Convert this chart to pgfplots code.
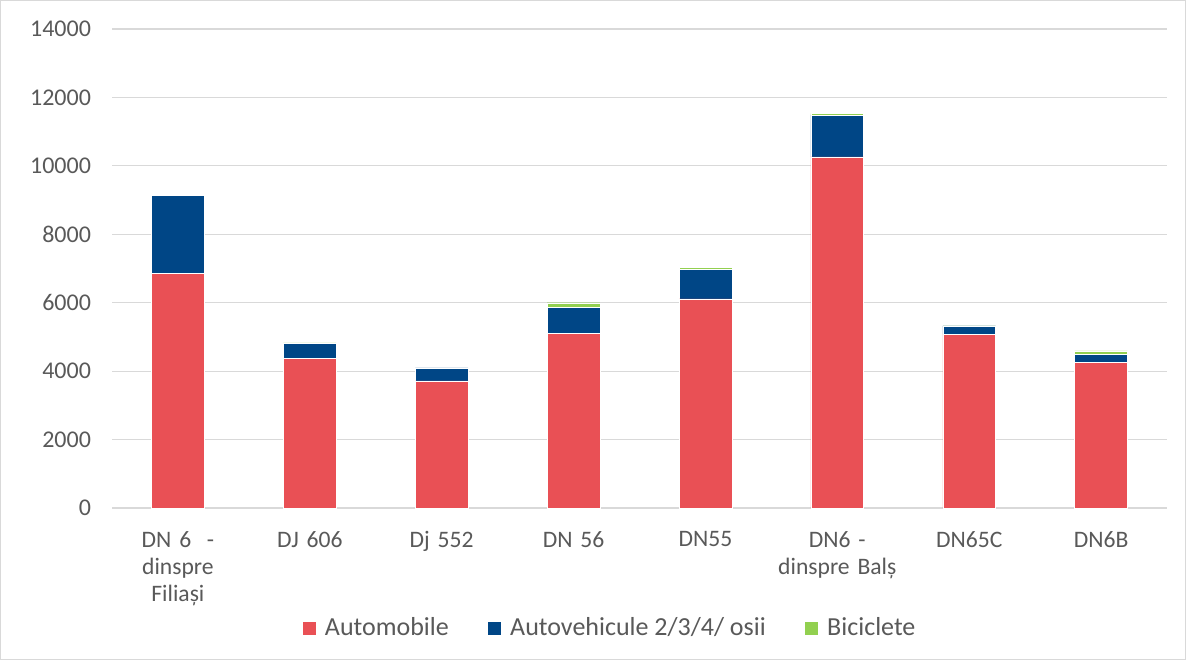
\documentclass[border=0pt]{standalone}
\usepackage{fontspec}
\setmainfont{Carlito}
\usepackage{pgfplots}
\pgfplotsset{compat=1.18}

\definecolor{autored}{RGB}{233,80,85}
\definecolor{autoblue}{RGB}{0,70,134}
\definecolor{bikegreen}{RGB}{146,208,80}
\definecolor{gridgray}{RGB}{217,217,217}
\definecolor{textgray}{RGB}{89,89,89}

% values: x index, Automobile, Autovehicule, Biciclete
\pgfplotstableread{
x auto truck bike
0 6860 2285 15
1 4375 440 8
2 3715 380 6
3 5095 760 145
4 6110 875 55
5 10260 1220 55
6 5085 235 6
7 4260 240 95
}\traffic

\begin{document}
\begin{tikzpicture}
\useasboundingbox (0pt,0pt) rectangle (593pt,330pt);
\draw[gridgray, line width=0.6pt] (0.25pt,0.25pt) rectangle (592.75pt,329.75pt);
\begin{axis}[
    at={(56pt,76pt)}, anchor=south west,
    scale only axis,
    width=527.5pt, height=239.5pt,
    ybar stacked,
    bar width=0.4,
    xmin=-0.5, xmax=7.5,
    ymin=0, ymax=14000,
    ytick={0,2000,...,14000},
    scaled y ticks=false,
    xtick={0,...,7},
    xticklabels={{DN 6\ \ -\\dinspre\\Filiași},{DJ 606},{Dj 552},{DN 56},{DN55},{DN6 -\\dinspre Balș},{DN65C},{DN6B}},
    x tick label style={align=center, text width=75pt, font=\fontsize{11.8}{13.5}\selectfont, text=textgray, yshift=-8pt},
    y tick label style={font=\fontsize{12}{14}\selectfont, text=textgray, xshift=-7pt},
    /pgf/number format/1000 sep={},
    /pgf/number format/assume math mode=true,
    axis line style={draw=none},
    major tick length=0pt,
    ymajorgrids,
    grid style={gridgray, line width=0.6pt},
    legend style={at={(0.4725,-0.2505)}, anchor=center, draw=none, legend columns=3,
        font=\fontsize{13}{15}\selectfont, text=textgray,
        /tikz/every odd column/.append style={column sep=2.5pt},
        /tikz/every even column/.append style={column sep=17pt}},
    legend image code/.code={\fill[#1] (0pt,-3.5pt) rectangle (7pt,3.5pt);},
]
\addplot[fill=autored, draw=white, line width=0.2pt] table[x=x,y=auto] {\traffic};
\addplot[fill=autoblue, draw=white, line width=0.2pt] table[x=x,y=truck] {\traffic};
\addplot[fill=bikegreen, draw=white, line width=0.2pt] table[x=x,y=bike] {\traffic};
\legend{Automobile, Autovehicule 2/3/4/ osii, Biciclete}
\end{axis}
\end{tikzpicture}
\end{document}
